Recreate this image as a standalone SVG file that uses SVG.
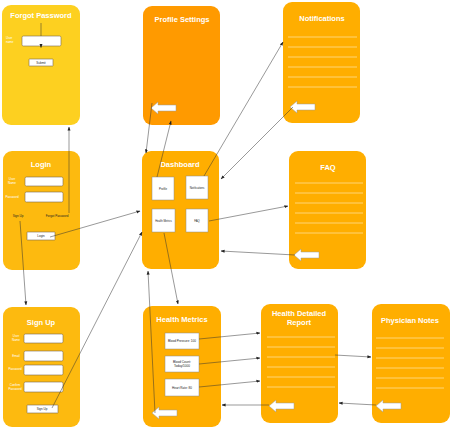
<svg xmlns="http://www.w3.org/2000/svg" width="451" height="429" viewBox="0 0 451 429">
<style>
.bg{fill:#ffffff}
.c-yel{fill:#FDD020}
.c-org{fill:#FF9A00}
.c-amb{fill:#FFAE00}
.c-gold{fill:#FDBA0F}
.title{font-family:"Liberation Sans",Arial,sans-serif;font-weight:bold;font-size:7.5px;fill:#ffffff;text-anchor:middle}
.lbl{font-family:"Liberation Sans",Arial,sans-serif;font-size:3px;fill:#ffffff;text-anchor:middle}
.dk{font-family:"Liberation Sans",Arial,sans-serif;font-size:3px;fill:#222222;text-anchor:middle}
.field{fill:#ffffff;stroke:#7a6a50;stroke-width:0.6}
.box{fill:#ffffff;stroke:#8c8c8c;stroke-width:0.5}
.rule{stroke:#FFE6A8;stroke-width:0.7}
.conn{fill:none;stroke:#333333;stroke-width:0.5}
.barrow{fill:#ffffff;stroke:#9a9a9a;stroke-width:0.5}
</style>
<defs>
<marker id="ah" markerWidth="4" markerHeight="4" refX="3.6" refY="2" orient="auto" markerUnits="userSpaceOnUse">
<path d="M0,0.5 L4,2 L0,3.5 Z" fill="#222222"/>
</marker>
<path id="back" d="M0,6 L7,0 L7,3 L25,3 L25,9 L7,9 L7,12 Z"/>
</defs>
<rect class="bg" x="0" y="0" width="451" height="429"/>

<g id="forgot-password">
<rect class="c-yel" x="2" y="5" width="78" height="120" rx="9"/>
<text class="title" x="41" y="18">Forgot Password</text>
<text class="lbl" x="6" y="39" style="text-anchor:start">User</text>
<text class="lbl" x="6" y="43" style="text-anchor:start">name</text>
<rect class="field" x="22" y="36" width="39" height="10" rx="1.5"/>
<rect class="field" x="29" y="59" width="24" height="7" rx="0.5"/>
<text class="dk" x="41" y="63.5">Submit</text>
</g>

<g id="profile-settings">
<rect class="c-org" x="143" y="6" width="77" height="119" rx="9"/>
<text class="title" x="182" y="21.5">Profile Settings</text>
<use href="#back" class="barrow" x="151" y="102"/>
</g>

<g id="notifications">
<rect class="c-amb" x="283" y="2" width="77" height="121" rx="9"/>
<text class="title" x="322" y="20.5">Notifications</text>
<path class="rule" d="M288,37H357M288,47H357M288,57H357M288,67H357M288,77H357M288,87H357"/>
<use href="#back" class="barrow" x="290" y="101"/>
</g>

<g id="login">
<rect class="c-gold" x="3" y="151" width="77" height="119" rx="9"/>
<text class="title" x="41" y="167">Login</text>
<text class="lbl" x="12" y="180">User</text>
<text class="lbl" x="12" y="184">Name</text>
<rect class="field" x="25" y="177" width="38" height="9" rx="1.5"/>
<text class="lbl" x="12" y="198">Password</text>
<rect class="field" x="25" y="192" width="38" height="10" rx="1.5"/>
<text class="dk" x="18" y="217">Sign Up</text>
<text class="dk" x="57" y="217">Forgot Password</text>
<rect class="field" x="27" y="232" width="28" height="8" rx="0.5"/>
<text class="dk" x="41" y="237">Login</text>
</g>

<g id="dashboard">
<rect class="c-amb" x="142" y="151" width="77" height="118" rx="9"/>
<text class="title" x="180" y="167">Dashboard</text>
<rect class="box" x="152" y="177" width="22" height="23"/>
<text class="dk" x="163" y="189.5" style="font-size:2.8px">Profile</text>
<rect class="box" x="186" y="176" width="22" height="23"/>
<text class="dk" x="197" y="188.5" style="font-size:2.7px">Notifications</text>
<rect class="box" x="152" y="209" width="23" height="23"/>
<text class="dk" x="163.5" y="221.5" style="font-size:2.6px">Health Metrics</text>
<rect class="box" x="186" y="209" width="22" height="23"/>
<text class="dk" x="197" y="221.5" style="font-size:2.8px">FAQ</text>
</g>

<g id="faq">
<rect class="c-amb" x="289" y="151" width="77" height="118" rx="9"/>
<text class="title" x="328" y="170">FAQ</text>
<path class="rule" d="M295,183H363M295,193H363M295,203H363M295,213H363M295,223H363M295,233H363"/>
<use href="#back" class="barrow" x="294" y="249"/>
</g>

<g id="sign-up">
<rect class="c-gold" x="3" y="307" width="77" height="120" rx="9"/>
<text class="title" x="41" y="325">Sign Up</text>
<text class="lbl" x="16" y="337">User</text>
<text class="lbl" x="16" y="341">Name</text>
<rect class="field" x="24" y="334" width="39" height="9" rx="1.5"/>
<text class="lbl" x="16" y="357">Email</text>
<rect class="field" x="24" y="351" width="39" height="10" rx="1.5"/>
<text class="lbl" x="15" y="370">Password</text>
<rect class="field" x="24" y="365" width="39" height="10" rx="1.5"/>
<text class="lbl" x="15" y="386">Confirm</text>
<text class="lbl" x="15" y="390">Password</text>
<rect class="field" x="24" y="382" width="39" height="10" rx="1.5"/>
<rect class="field" x="27" y="405" width="31" height="8" rx="0.5"/>
<text class="dk" x="42" y="410">Sign Up</text>
</g>

<g id="health-metrics">
<rect class="c-amb" x="143" y="306" width="78" height="121" rx="9"/>
<text class="title" x="182" y="322">Health Metrics</text>
<rect class="box" x="165" y="333" width="34" height="16"/>
<text class="dk" x="182" y="342" style="font-size:3.1px">Blood Pressure: 100</text>
<rect class="box" x="165" y="356" width="34" height="16"/>
<text class="dk" x="182" y="363" style="font-size:3.1px">Blood Count:</text>
<text class="dk" x="182" y="367" style="font-size:3.1px">Today/1000</text>
<rect class="box" x="165" y="379" width="34" height="17"/>
<text class="dk" x="182" y="388.5" style="font-size:3.1px">Heart Rate: 80</text>
<use href="#back" class="barrow" x="152" y="407"/>
</g>

<g id="health-detailed-report">
<rect class="c-amb" x="261" y="304" width="77" height="119" rx="9"/>
<text class="title" x="299" y="315.5">Health Detailed</text>
<text class="title" x="299" y="324.5">Report</text>
<path class="rule" d="M267,337H335M267,347H335M267,357H335M267,367H335M267,377H335M267,387H335"/>
<use href="#back" class="barrow" x="269" y="400"/>
</g>

<g id="physician-notes">
<rect class="c-amb" x="372" y="304" width="78" height="119" rx="9"/>
<text class="title" x="410" y="322.5">Physician Notes</text>
<path class="rule" d="M376,338H444M376,348H444M376,358H444M376,368H444M376,378H444M376,388H444"/>
<use href="#back" class="barrow" x="376" y="400"/>
</g>

<g id="connectors">
<path class="conn" d="M41,23 V36 M41,46 V47.5" marker-end="url(#ah)"/>
<path class="conn" d="M69,213 L69,127" marker-end="url(#ah)"/>
<path class="conn" d="M20,221 L26,305" marker-end="url(#ah)"/>
<path class="conn" d="M50,237 L140,211" marker-end="url(#ah)"/>
<path class="conn" d="M52,408 L142,232" marker-end="url(#ah)"/>
<path class="conn" d="M157,177 L171,121" marker-end="url(#ah)"/>
<path class="conn" d="M152,103 L146,153" marker-end="url(#ah)"/>
<path class="conn" d="M204,176 L283,42" marker-end="url(#ah)"/>
<path class="conn" d="M293,107 L221,179" marker-end="url(#ah)"/>
<path class="conn" d="M209,221 L288,206" marker-end="url(#ah)"/>
<path class="conn" d="M295,255 L221,251" marker-end="url(#ah)"/>
<path class="conn" d="M164,233 L178,304" marker-end="url(#ah)"/>
<path class="conn" d="M155,413 L148,271" marker-end="url(#ah)"/>
<path class="conn" d="M199,339 L260,333" marker-end="url(#ah)"/>
<path class="conn" d="M199,364 L260,358" marker-end="url(#ah)"/>
<path class="conn" d="M199,387 L260,381" marker-end="url(#ah)"/>
<path class="conn" d="M269,405 L222,405" marker-end="url(#ah)"/>
<path class="conn" d="M335,355 L371,357" marker-end="url(#ah)"/>
<path class="conn" d="M376,405 L339,403" marker-end="url(#ah)"/>
</g>
</svg>
